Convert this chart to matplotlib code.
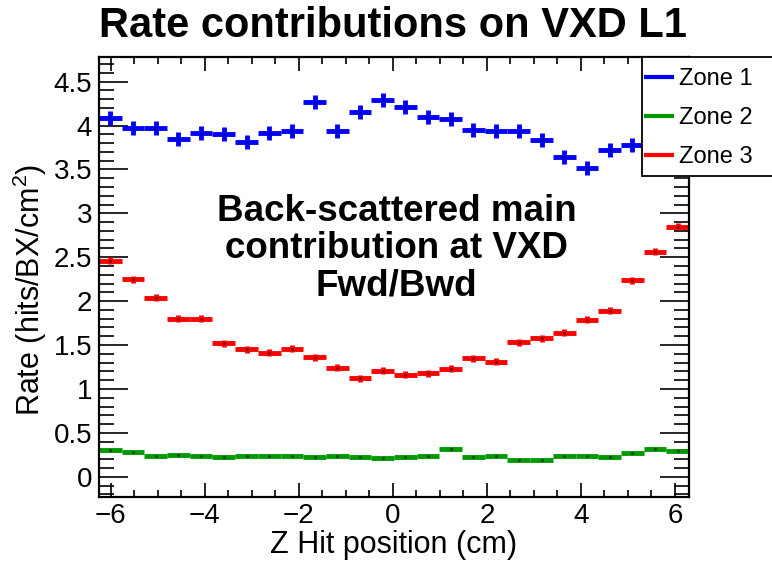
import numpy as np
import matplotlib
matplotlib.use("Agg")
from matplotlib import pyplot as plt
from matplotlib.ticker import MultipleLocator
from matplotlib.patches import Rectangle
from matplotlib.lines import Line2D

plt.rcParams['font.family'] = ['Liberation Sans', 'DejaVu Sans']
plt.rcParams['mathtext.default'] = 'regular'

# 26 bins in Z (cm)
z_lo, z_hi, n_bins = -6.25, 6.3, 26

zone1 = [4.09, 3.97, 3.97, 3.85, 3.92, 3.90, 3.81, 3.91, 3.94, 4.27,
         3.94, 4.15, 4.29, 4.21, 4.10, 4.07, 3.95, 3.94, 3.94, 3.83,
         3.64, 3.52, 3.72, 3.78, 3.85, 4.00]
zone2 = [0.30, 0.28, 0.24, 0.25, 0.24, 0.22, 0.24, 0.24, 0.235, 0.22,
         0.24, 0.23, 0.21, 0.23, 0.24, 0.315, 0.23, 0.24, 0.19, 0.19,
         0.24, 0.24, 0.23, 0.27, 0.32, 0.29]
zone3 = [2.46, 2.25, 2.04, 1.80, 1.80, 1.52, 1.45, 1.41, 1.46, 1.36,
         1.24, 1.12, 1.21, 1.16, 1.18, 1.23, 1.35, 1.31, 1.53, 1.58,
         1.64, 1.79, 1.89, 2.24, 2.56, 2.85]
err1, err2, err3 = 0.08, 0.012, 0.04

labels = ["Zone 1", "Zone 2", "Zone 3"]
colors = ["#0000ff", "#009900", "#ff0000"]
dot_colors = ["#0000aa", "#004400", "#880000"]

edges = np.linspace(z_lo, z_hi, n_bins + 1)
centers = 0.5 * (edges[1:] + edges[:-1])
half_w = 0.5 * (edges[1] - edges[0])

W, H = 772, 561
fig = plt.figure(figsize=(W / 100, H / 100), dpi=100)
ax = fig.add_axes([99 / W, 1 - 497 / H, (689 - 99) / W, (497 - 57) / H])

for vals, err, c, dc in zip([zone1, zone2, zone3], [err1, err2, err3], colors, dot_colors):
    ax.errorbar(centers, vals, xerr=half_w, yerr=err, fmt='o', ms=1.2,
                mfc=dc, mec=dc, ecolor=c, elinewidth=3.5, capsize=0)

ax.set_xlim(z_lo, z_hi)
ax.set_ylim(-0.23, 4.78)

ax.xaxis.set_major_locator(MultipleLocator(2))
ax.xaxis.set_minor_locator(MultipleLocator(0.5))
ax.yaxis.set_major_locator(MultipleLocator(0.5))
ax.yaxis.set_minor_locator(MultipleLocator(0.1))
ax.tick_params(axis='both', which='both', direction='in', top=True, right=True,
               width=1.2, labelsize=20, colors='black')
ax.tick_params(axis='x', which='major', length=10, pad=4)
ax.tick_params(axis='x', which='minor', length=5)
ax.tick_params(axis='y', which='major', length=21, pad=5)
ax.tick_params(axis='y', which='minor', length=11)
ax.set_yticks([0, 0.5, 1, 1.5, 2, 2.5, 3, 3.5, 4, 4.5])
ax.set_yticklabels(["0", "0.5", "1", "1.5", "2", "2.5", "3", "3.5", "4", "4.5"])
for s in ax.spines.values():
    s.set_linewidth(1.6)

ax.set_xlabel("Z Hit position (cm)", fontsize=22, labelpad=1)
ax.set_ylabel("Rate (hits/BX/cm$^{2}$)", fontsize=22, labelpad=3)
ax.yaxis.label.set_y(0.47)

fig.text(393 / W, 1 - 26 / H, "Rate contributions on VXD L1", ha='center', va='center',
         fontsize=30, fontweight='bold')

ax.text(0.5 * (215 + 578) / W, 1 - 249 / H,
        "Back-scattered main\ncontribution at VXD\nFwd/Bwd",
        transform=fig.transFigure, ha='center', va='center',
        fontsize=26.5, fontweight='bold', linespacing=1.08)

# legend box hanging over the right edge
fig.patches.append(Rectangle((642 / W, 1 - 176 / H), 200 / W, 119 / H,
                             transform=fig.transFigure, facecolor='white',
                             edgecolor='black', linewidth=1.3, zorder=2))
handles = [Line2D([], [], color=c, lw=3) for c in colors]
fig.legend(handles, labels, loc='upper left', bbox_to_anchor=(646 / W, 1 - 68 / H),
           frameon=False, fontsize=17, handlelength=1.1, handletextpad=0.3,
           labelspacing=0.73, borderaxespad=0, borderpad=0)

fig.savefig("out.png", dpi=100)
